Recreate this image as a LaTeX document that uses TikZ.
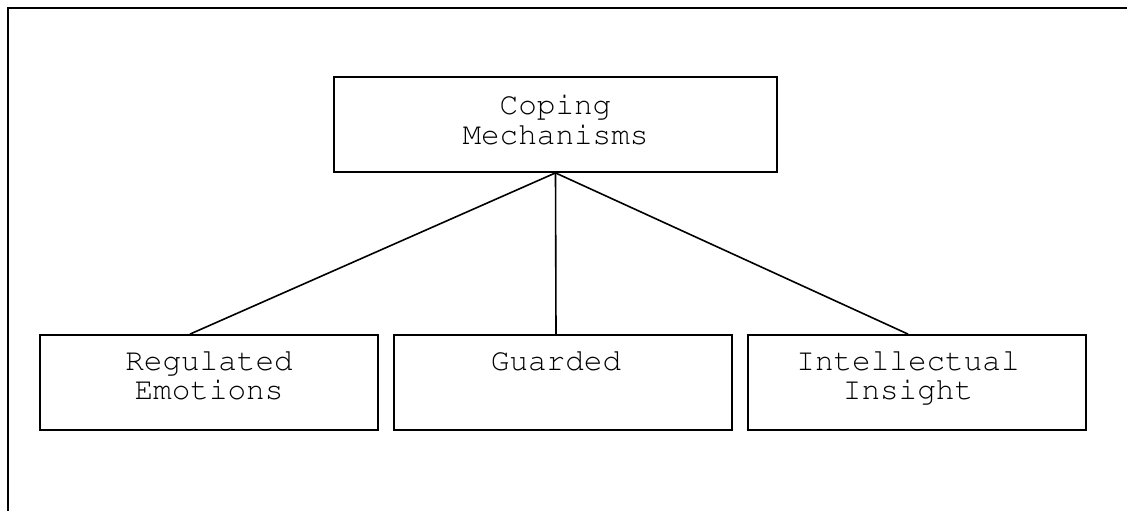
\documentclass[tikz,border=0pt]{standalone}
\usepackage[T1]{fontenc}
\usepackage{courier}
\begin{document}
\begin{tikzpicture}[x=1pt,y=-1pt,
  box/.style={draw, line width=1.8pt, inner sep=0pt, minimum height=95pt},
  lbl/.style={inner sep=0pt, align=center, anchor=north},
  topfont/.style={font=\ttfamily\fontsize{31}{30}\selectfont},
  botfont/.style={font=\ttfamily\fontsize{31}{29}\selectfont},
  link/.style={line width=1.6pt}]
\useasboundingbox (0,0) rectangle (1127,511);
% frame (top and left only)
\coordinate (ftl) at (8,8);
\coordinate (ftr) at (1127,8);
\coordinate (fbl) at (8,511);
\draw[line width=2pt] (fbl) -- (ftl) -- (ftr);
% boxes
\node[box, minimum width=443pt] (cm) at (555.5,124.5) {};
\node[box, minimum width=338pt] (re) at (209,382.5) {};
\node[box, minimum width=338pt] (gu) at (563,382.5) {};
\node[box, minimum width=338pt] (ii) at (917,382.5) {};
% labels
\node[lbl, topfont] (cmt) at ([yshift=-18pt]cm.north) {Coping\\Mechanisms};
\node[lbl, botfont] (ret) at ([yshift=-16pt]re.north) {Regulated\\Emotions};
\node[lbl, botfont] (gut) at ([xshift=-7pt,yshift=-16pt]gu.north) {Guarded};
\node[lbl, botfont] (iit) at ([xshift=-9pt,yshift=-16pt]ii.north) {Intellectual\\Insight};
% connectors
\draw[link] (cm.south) -- ([xshift=-19pt]re.north);
\draw[link] (cm.south) -- ([xshift=-7pt]gu.north);
\draw[link] (cm.south) -- ([xshift=-9pt]ii.north);
\end{tikzpicture}
\end{document}
